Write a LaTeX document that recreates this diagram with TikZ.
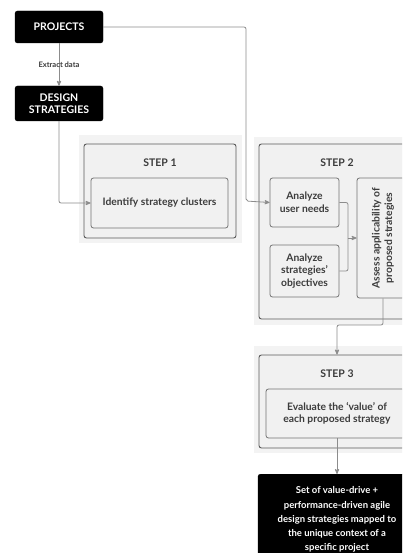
\documentclass[tikz,border=0pt]{standalone}
\usepackage{fontspec}
\setmainfont{Lato}
\usetikzlibrary{arrows,positioning}
\tikzset{>=stealth'}
\definecolor{wire}{HTML}{8C8C8C}
\definecolor{frame}{HTML}{5A5A5A}
\definecolor{panel}{HTML}{F3F3F3}
\definecolor{cell}{HTML}{F1F1F1}
\definecolor{ink}{HTML}{3C3C3C}
\tikzset{
  blackbox/.style={fill=black,draw=black,rounded corners=2.5pt,text=white,
    font=\bfseries\fontsize{10.5}{12.5}\selectfont,align=center,inner sep=0pt},
  stepframe/.style={draw=frame,fill=cell,line width=0.9pt,rounded corners=2.5pt,inner sep=0pt},
  taskbox/.style={draw=frame!85,fill=cell,line width=0.8pt,rounded corners=2.5pt,text=ink,
    font=\bfseries\fontsize{10.3}{12.7}\selectfont,align=center,inner sep=0pt},
  steptitle/.style={text=ink,font=\bfseries\fontsize{10.5}{12}\selectfont},
  link/.style={draw=wire,line width=0.8pt,rounded corners=2pt},
  tip/.style={link,->,shorten >=0pt}
}
\begin{document}
\begin{tikzpicture}[x=1pt,y=-1pt]
\clip (0,0) rectangle (402,553);
\fill[white] (0,0) rectangle (402,553);
% grey panels behind the steps
\fill[panel] (79,135) rectangle (242,243);
\fill[panel] (254,137) rectangle (430,325);
\fill[panel] (254,346) rectangle (430,453);
% inputs
\node[blackbox,minimum width=88pt,minimum height=32pt] (proj) at (59,27) {PROJECTS};
\node[blackbox,minimum width=88pt,minimum height=35pt] (dstrat) at (59,103.5) {DESIGN\\STRATEGIES};
% step 1
\node[stepframe,minimum width=152pt,minimum height=94pt] (s1) at (160,191) {};
\node[steptitle] (t1) at (160,163) {STEP 1};
\node[taskbox,minimum width=137pt,minimum height=50pt] (ident) at (159.5,203) {Identify strategy clusters};
% step 2
\node[stepframe,minimum width=156pt,minimum height=175pt] (s2) at (337,231.5) {};
\node[steptitle] (t2) at (337,163) {STEP 2};
\node[taskbox,minimum width=69pt,minimum height=49pt] (needs) at (304.5,202.5) {Analyze\\user needs};
\node[taskbox,minimum width=69pt,minimum height=52pt] (objs) at (304.5,271) {Analyze\\strategies'\\objectives};
\node[taskbox,minimum width=52pt,minimum height=120pt] (assess) at (383,238) {};
\node[text=ink,font=\bfseries\fontsize{10.3}{12.5}\selectfont,align=center,rotate=90] (assesstxt) at (assess.center) {Assess applicability of\\proposed strategies};
% step 3
\node[stepframe,minimum width=156pt,minimum height=93pt] (s3) at (337,401.5) {};
\node[steptitle] (t3) at (337,374) {STEP 3};
\node[taskbox,minimum width=142pt,minimum height=49pt] (evalv) at (337,413.5) {Evaluate the `value' of\\each proposed strategy};
% output
\node[blackbox,font=\bfseries\fontsize{9.5}{14.3}\selectfont,minimum width=158pt,minimum height=91pt,anchor=north] (result) at (337,474)
  {Set of value-drive +\\performance-driven agile\\design strategies mapped to\\the unique context of a\\specific project};
% connectors
\draw[tip] (proj) -- node[text=ink,font=\bfseries\fontsize{7.6}{8}\selectfont] (xlab) {Extract data} (dstrat);
\draw[tip] (dstrat.south) |- (ident.west);
\draw[tip] (proj.east) -| (246,201) -- (needs.west);
\coordinate (join) at (348,238);
\draw[link] (needs.east) -| (join);
\draw[link] (objs.east) -| (join);
\draw[tip] (join) -- (assess.west);
\draw[tip] (assess.south) -- (383,325) -| (s3.north);
\draw[tip] (evalv.south) -- (result.north);
\end{tikzpicture}
\end{document}
